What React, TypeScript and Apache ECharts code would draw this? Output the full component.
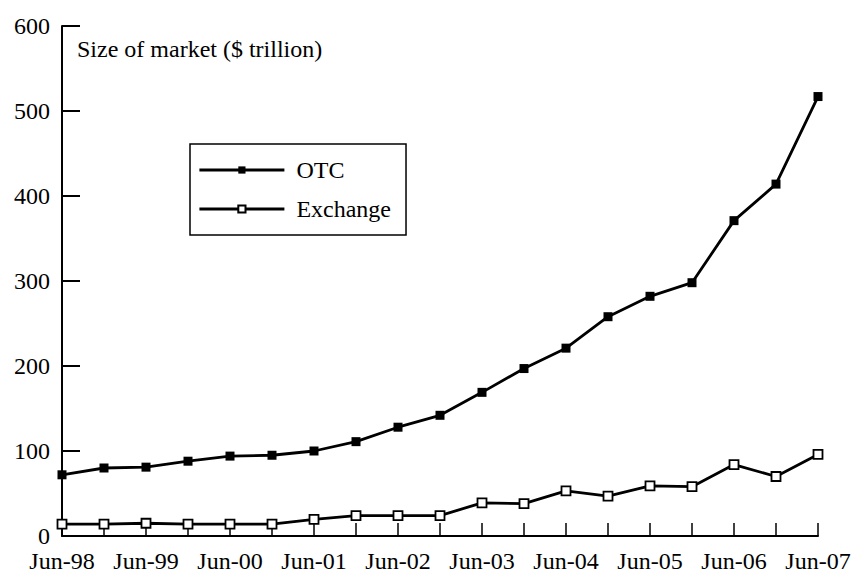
import React, { useEffect, useRef } from "react";
import * as echarts from "echarts";

const categories = [
  "Jun-98", "Dec-98", "Jun-99", "Dec-99", "Jun-00", "Dec-00", "Jun-01", "Dec-01",
  "Jun-02", "Dec-02", "Jun-03", "Dec-03", "Jun-04", "Dec-04", "Jun-05", "Dec-05",
  "Jun-06", "Dec-06", "Jun-07",
];
const otcValues = [72, 80, 81, 88, 94, 95, 100, 111, 128, 142, 169, 197, 221, 258, 282, 298, 371, 414, 517];
const exchangeValues = [14, 14, 15, 14, 14, 14, 19.5, 24, 24, 24, 39, 38, 53, 47, 59, 58, 84, 70, 96];
const yMin = 0;
const yMax = 600;
const yInterval = 100;
const titleText = "Size of market ($ trillion)";

const FONT = "'Liberation Serif', 'Times New Roman', serif";

export default function App() {
  const ref = useRef<HTMLDivElement>(null);

  useEffect(() => {
    if (!ref.current) return;
    const chart = echarts.init(ref.current, undefined, { renderer: "svg" });
    chart.setOption({
      animation: false,
      backgroundColor: "#ffffff",
      textStyle: { fontFamily: FONT, color: "#000" },
      grid: { left: 62, right: 36, top: 26, bottom: 43, containLabel: false, outerBoundsMode: "none" },
      xAxis: {
        type: "category",
        data: categories,
        boundaryGap: false,
        axisLine: { show: true, lineStyle: { color: "#000", width: 2 } },
        axisTick: { show: true, inside: true, length: 13, interval: 0, lineStyle: { color: "#000", width: 1.5 } },
        axisLabel: { interval: 1, margin: 13, fontSize: 24, fontFamily: FONT, color: "#000" },
        splitLine: { show: false },
      },
      yAxis: {
        type: "value",
        min: yMin,
        max: yMax,
        interval: yInterval,
        axisLine: { show: true, lineStyle: { color: "#000", width: 2 } },
        axisTick: { show: true, inside: true, length: 18, lineStyle: { color: "#000", width: 2 } },
        axisLabel: { margin: 12, fontSize: 24, fontFamily: FONT, color: "#000" },
        splitLine: { show: false },
      },
      legend: {
        orient: "vertical",
        left: 190,
        top: 144,
        padding: [13, 15, 13, 8],
        itemGap: 13,
        itemWidth: 85,
        itemHeight: 9,
        borderColor: "#000",
        borderWidth: 1.5,
        backgroundColor: "#fff",
        lineStyle: { width: 2.8, color: "#000" },
        textStyle: { fontSize: 24, fontFamily: FONT, color: "#000", lineHeight: 26, padding: [0, 0, 0, 7] },
        data: ["OTC", "Exchange"],
      },
      graphic: [
        {
          type: "text",
          left: 77,
          top: 37,
          style: { text: titleText, fontSize: 24, fontFamily: FONT, fill: "#000" },
        },
      ],
      series: [
        {
          name: "OTC",
          type: "line",
          data: otcValues,
          symbol: "rect",
          symbolSize: 9,
          lineStyle: { color: "#000", width: 2.8 },
          itemStyle: { color: "#000", borderColor: "#000", borderWidth: 0 },
        },
        {
          name: "Exchange",
          type: "line",
          data: exchangeValues,
          symbol: "rect",
          symbolSize: 9,
          lineStyle: { color: "#000", width: 2.8 },
          itemStyle: { color: "#fff", borderColor: "#000", borderWidth: 1.8 },
        },
      ],
    });
    return () => chart.dispose();
  }, []);

  return (
    <div
      ref={ref}
      style={{ position: "absolute", left: 0, top: 0, width: 854, height: 579 }}
    />
  );
}
